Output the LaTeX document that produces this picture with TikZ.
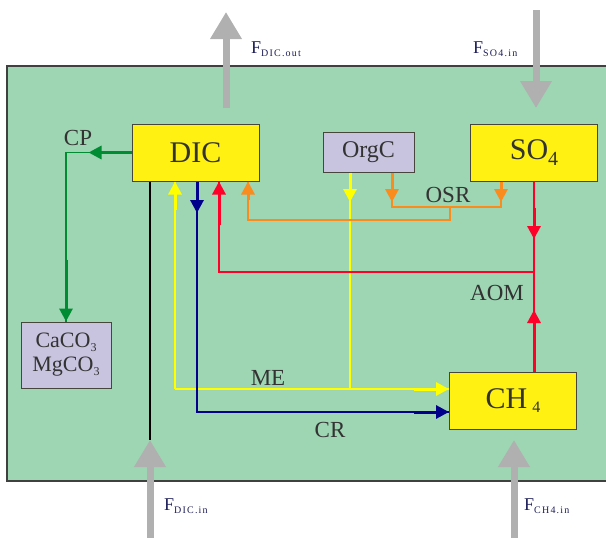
\documentclass[tikz,border=0pt]{standalone}
\usepackage{fontspec}
\setmainfont{Liberation Serif}
\usepackage{xcolor}
\usetikzlibrary{arrows.meta}

\definecolor{poolgreen}{RGB}{158,213,179}
\definecolor{poolframe}{RGB}{64,64,64}
\definecolor{boxyellow}{RGB}{255,242,18}
\definecolor{boxlilac}{RGB}{200,196,224}
\definecolor{boxedge}{RGB}{70,70,60}
\definecolor{fluxgray}{RGB}{176,176,176}
\definecolor{labelgray}{RGB}{51,51,51}
\definecolor{fluxnavy}{RGB}{30,30,90}
\definecolor{cpgreen}{RGB}{0,140,50}
\definecolor{meyellow}{RGB}{255,255,0}
\definecolor{crblue}{RGB}{0,0,140}
\definecolor{aomred}{RGB}{255,0,40}
\definecolor{osrorange}{RGB}{250,140,30}

\newcommand{\fsub}[1]{\raisebox{-3pt}{\fontsize{10}{10}\selectfont\addfontfeature{LetterSpace=12}#1}}
\newcommand{\bigsub}[1]{\raisebox{-6pt}{\fontsize{20}{20}\selectfont #1}}
\newcommand{\smallsub}[1]{\raisebox{-4pt}{\fontsize{12}{12}\selectfont #1}}

\tikzset{
  species/.style={draw=boxedge,fill=boxyellow,line width=1pt,inner sep=0pt,
    minimum width=127pt,minimum height=57pt,text=labelgray,
    font=\fontsize{30}{30}\selectfont},
  mineral/.style={draw=boxedge,fill=boxlilac,line width=1pt,inner sep=0pt,
    text=labelgray,font=\fontsize{22}{24}\selectfont},
  flux/.style={draw=fluxgray,line width=7pt,-{Triangle[width=30pt,length=27pt]}},
  fluxlabel/.style={anchor=base west,inner sep=0pt,text=fluxnavy,
    font=\fontsize{18}{18}\selectfont},
  proc/.style={text=labelgray,inner sep=0pt,font=\fontsize{23}{23}\selectfont},
  thin line/.style={line width=1.5pt},
  thick line/.style={line width=3pt},
  head/.style={-{Triangle[width=13pt,length=13pt]}},
}

\begin{document}
\begin{tikzpicture}[x=1pt,y=-1pt]
\useasboundingbox (0,0) rectangle (606,538);
\fill[poolgreen] (7,66) rectangle (612,481);
\draw[poolframe,line width=2.5pt] (612,66) -- (7,66) -- (7,481) -- (612,481);

\node[species] (dic) at (195.5,152.5) {DIC};
\node[species] (so4) at (534,152.5) {SO\bigsub{4}};
\node[species] (ch4) at (513,400.5) {CH\,\smallsub{\fontsize{16}{16}\selectfont 4}};
\node[mineral,minimum width=91pt,minimum height=40pt,font=\fontsize{24}{24}\selectfont]
  (orgc) at (368.5,152) {OrgC};
\node[mineral,minimum width=90pt,minimum height=66pt,align=center] (carb) at (66,355)
  {CaCO\smallsub{3}\\MgCO\smallsub{3}};

\coordinate (dicoutbase) at (226,108);
\coordinate (dicouttip) at (226,12);
\coordinate (so4inbase) at (536,10);
\coordinate (so4intip) at (536,108);
\coordinate (dicinbase) at (150,540);
\coordinate (dicintip) at (150,440);
\coordinate (ch4inbase) at (514,540);
\coordinate (ch4intip) at (514,440);

\draw[flux] (dicoutbase) -- (dicouttip);
\draw[flux] (so4inbase) -- (so4intip);
\draw[flux] (dicinbase) -- (dicintip);
\draw[flux] (ch4inbase) -- (ch4intip);

\node[fluxlabel] (fdicout) at (251,53) {F\fsub{DIC.out}};
\node[fluxlabel] (fso4in) at (473,53) {F\fsub{SO4.in}};
\node[fluxlabel] (fdicin) at (164,510) {F\fsub{DIC.in}};
\node[fluxlabel] (fch4in) at (524,510) {F\fsub{CH4.in}};

\draw[line width=2.5pt] (dic.south -| dicintip) -- (dicintip);

\draw[cpgreen,thin line] (dic.west) -| (carb.north);
\draw[cpgreen,thick line,head] (dic.west) -- ++(-43,0);
\draw[cpgreen,thick line,head] (carb.north) ++(0,-62) -- (carb.north);

\draw[meyellow,thin line] (175,389) -- (175,0 |- dic.south);
\draw[meyellow,thin line] (175,389) -- (ch4.west |- 0,389);
\draw[meyellow,thick line,head] (175,210) -- (175,0 |- dic.south);
\draw[meyellow,thick line,head] (414,389) -- (ch4.west |- 0,389);
\draw[meyellow,thin line] (orgc.south -| 350,0) -- (350,389);
\draw[meyellow,thick line,head] (orgc.south -| 350,0) -- (350,202);

\draw[crblue,thin line] (197,0 |- dic.south) |- (ch4.west |- 0,412);
\draw[crblue,thick line,head] (197,0 |- dic.south) -- (197,213);
\draw[crblue,thick line,head] (414,412) -- (ch4.west |- 0,412);

\draw[aomred,thin line] (so4.south) -- (so4.south |- ch4.north);
\draw[aomred,thin line] (so4.south |- 0,272) -| (219,0 |- dic.south);
\draw[aomred,thick line,head] (219,225) -- (219,0 |- dic.south);
\draw[aomred,thick line,head] (so4.south |- 0,208) -- (so4.south |- 0,239);
\draw[aomred,thick line,head] (so4.south |- ch4.north) -- (so4.south |- 0,310);

\draw[osrorange,thin line] (orgc.south -| 392,0) |- (501,207) -- (so4.south -| 501,0);
\draw[osrorange,thin line] (450,207) |- (248,220) -- (248,0 |- dic.south);
\draw[osrorange,thick line,head] (orgc.south -| 392,0) -- (392,202);
\draw[osrorange,thick line,head] (so4.south -| 501,0) -- (501,202);
\draw[osrorange,thick line,head] (248,200) -- (248,0 |- dic.south);

\node[proc] (cp) at (78,138) {CP};
\node[proc] (osr) at (448,195) {OSR};
\node[proc] (aom) at (497,293) {AOM};
\node[proc] (me) at (268,378) {ME};
\node[proc] (cr) at (330,430) {CR};
\end{tikzpicture}
\end{document}
